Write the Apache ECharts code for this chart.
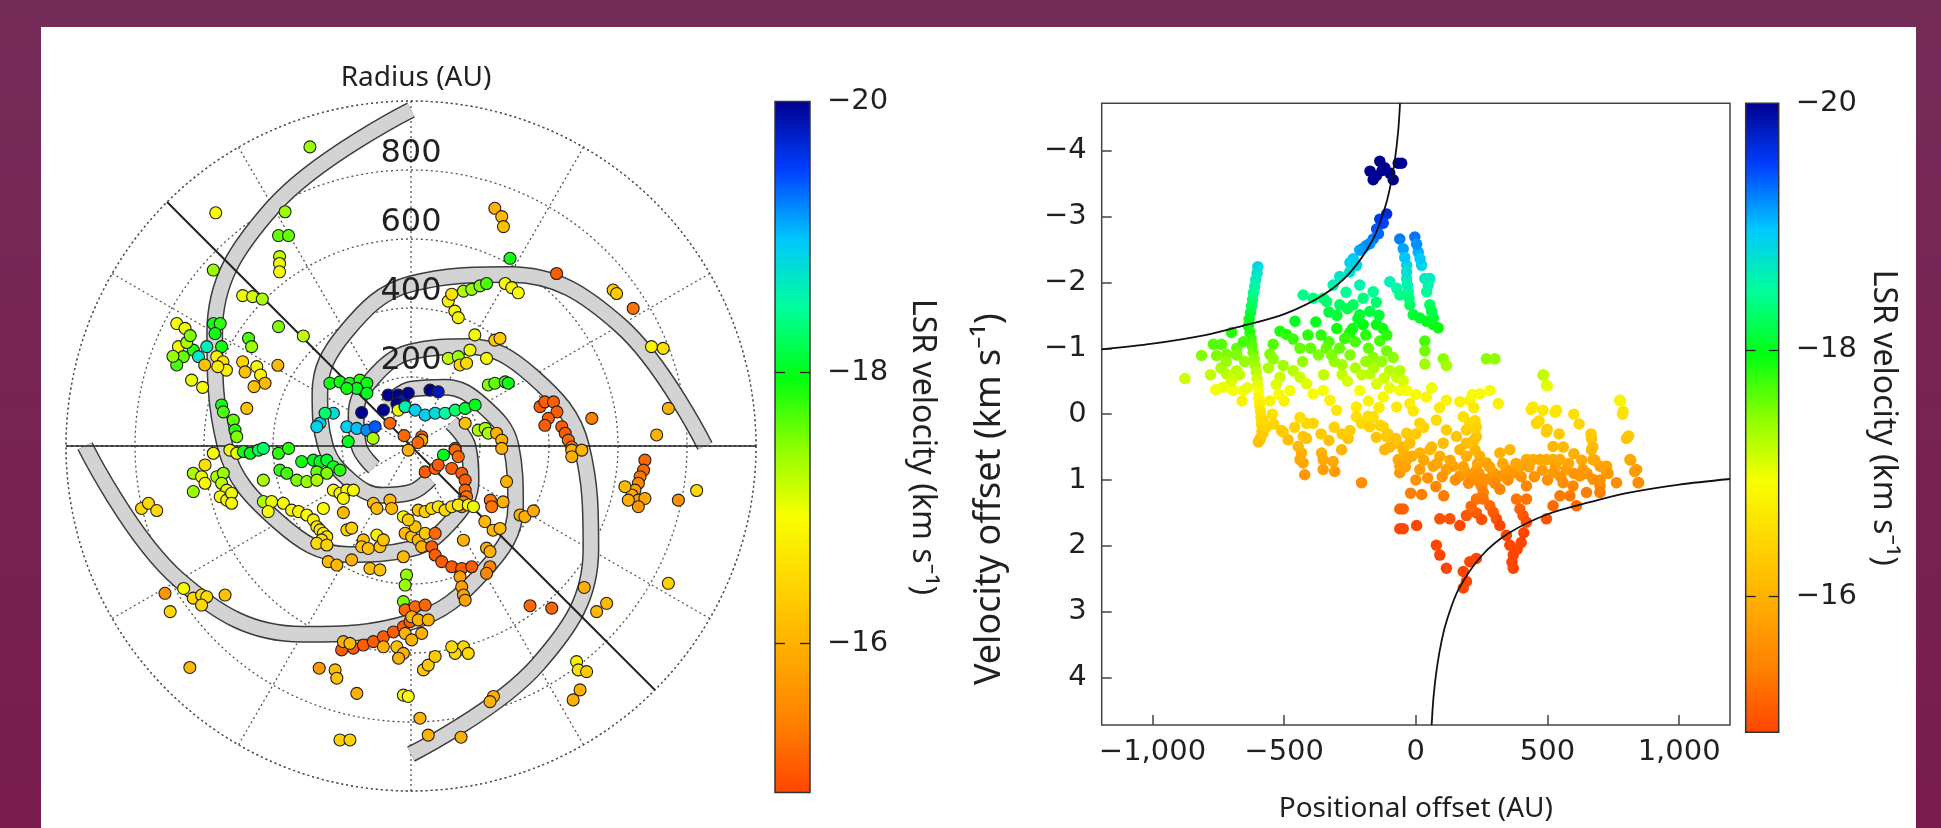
<!DOCTYPE html>
<html>
<head>
<meta charset="utf-8">
<script src="https://cdn.jsdelivr.net/npm/echarts@6/dist/echarts.min.js"></script>
<style>
html, body { margin:0; padding:0; width:1941px; height:828px; overflow:hidden;
  background: linear-gradient(#742c59, #7a1b4f); }
#panel { position:absolute; left:41px; top:27px; width:1875px; height:801px; background:#fff; }
#chart { position:absolute; left:0; top:0; width:1941px; height:828px; }
</style>
</head>
<body>
<div id="panel"></div>
<div id="chart"></div>
<script>
// ---------- data ----------
var lsrMin = -20, lsrMax = -14.9, vSys = -16.6;
var lsrTicks = [-20, -18, -16];
var radiusMax = 1000;
var radiusTicks = [200, 400, 600, 800];
var posTicks = [-1000, -500, 0, 500, 1000];
var velTicks = [-4, -3, -2, -1, 0, 1, 2, 3, 4];
var posRange = 1193, velRange = 4.72;

// spiral arms [radius AU, angle deg], angle counter-clockwise from east
var armNorth = [[974,90],[800,120],[657,150],[539,180],[442,210],[363,240],[298,270],[245,300],[201,330],[165,0],[135,30]];
var armSouth = [[893,270],[733,300],[602,330],[494,0],[406,30],[333,60],[273,90],[225,120],[184,150],[151,180],[124,210]];
var armEast  = [[852,0],[700,30],[574,60],[470,90],[380,120],[305,150],[248,180],[202,210],[165,240],[134,270],[110,300]];
var armWest  = [[945,180],[776,210],[630,240],[510,270],[420,300],[350,330],[290,0],[238,30],[197,60],[165,90],[136,120]];

var eastWestLine = [[1000,0],[1000,180]];
var majorAxisLine = [[1210,135],[1210,315]];

// maser spots on the sky: [east AU, north AU, LSR velocity]
var discSpots = [
 [-293,867,-17.4],[-566,676,-16.9],[-365,679,-17.4],[-384,610,-17.6],[-355,610,-17.6],
 [-381,549,-17.2],[-381,529,-17.0],[-381,505,-16.9],[-573,510,-17.4],
 [-488,436,-17.0],[-459,433,-17.1],[-431,426,-17.3],[-384,346,-17.5],[-312,319,-17.2],
 [-679,355,-16.9],[-655,341,-17.0],[-674,288,-16.9],[-660,259,-17.6],[-679,235,-17.7],[-631,278,-17.8],
 [-616,259,-18.7],[-592,288,-18.6],[-573,355,-17.9],[-553,355,-17.8],[-568,326,-17.9],[-549,288,-17.9],
 [-563,259,-16.8],[-545,244,-16.6],[-535,220,-16.8],[-598,235,-16.2],[-636,191,-17.0],[-604,170,-16.9],
 [-650,300,-17.3],[-640,320,-17.5],[-560,230,-16.7],[-690,260,-17.4],
 [-471,312,-17.7],[-462,288,-17.4],[-488,244,-16.4],[-481,215,-16.2],[-447,230,-16.9],[-436,206,-16.8],
 [-423,182,-16.1],[-455,172,-16.2],[-386,234,-16.1],
 [-549,119,-17.9],[-544,99,-17.7],[-515,75,-17.6],[-510,46,-17.8],[-505,27,-17.5],[-476,109,-16.2],
 [-235,182,-17.9],[-206,186,-17.9],[-177,182,-17.9],[-148,191,-17.8],[-128,182,-17.9],[-157,167,-18.0],[-186,167,-17.9],
 [-128,153,-18.0],[-264,66,-18.9],[-225,95,-18.8],[-249,95,-18.3],[-273,56,-18.9],
 [-186,56,-18.9],[-157,51,-19.0],[-128,46,-19.2],[-104,56,-19.4],[-143,97,-20],
 [-66,148,-20],[-37,148,-20],[-22,133,-19.8],[-41,123,-20],[-80,104,-20.2],
 [-37,104,-17.0],[-17,114,-17.5],[-61,66,-15.2],[-182,13,-18.0],[-110,22,-17.3],
 [243,689,-16.0],[263,665,-16.1],[268,636,-16.2],[287,544,-17.9],[422,500,-15.1],
 [586,452,-16.3],[596,442,-16.3],[644,399,-15.3],[697,288,-16.8],[731,283,-16.6],
 [746,109,-16.0],[712,32,-16.0],[524,80,-15.4],
 [108,420,-16.8],[127,391,-16.9],[137,372,-16.8],[118,440,-16.6],[152,449,-17.3],[176,454,-17.4],
 [200,464,-17.5],[219,471,-17.7],[273,471,-16.9],[292,459,-16.8],[311,444,-16.9],
 [185,322,-16.9],[243,307,-16.3],[258,312,-16.3],
 [108,254,-17.2],[137,259,-17.4],[171,278,-17.0],[142,235,-16.4],[161,240,-16.5],[219,254,-16.9],
 [224,177,-17.5],[243,182,-17.6],[273,186,-17.8],[282,182,-17.9],
 [-8,153,-20],[55,162,-20],[79,157,-19.8],
 [-17,114,-18.6],[12,104,-18.9],[41,90,-18.9],[70,95,-18.8],[99,95,-18.5],[128,104,-18.3],[157,109,-18.1],[186,119,-18.0],
 [157,66,-16.2],[195,46,-17.3],[215,51,-17.3],[224,37,-17.3],
 [248,37,-16.0],[263,17,-16.0],[263,-7,-16.0],[31,27,-15.1],[128,-7,-15.2],
 [374,114,-15.1],[388,128,-15.1],[413,128,-15.1],[423,99,-15.1],[398,80,-15.1],[388,60,-15.1],
 [437,56,-15.1],[447,37,-15.1],[456,17,-15.2],[466,-3,-15.3],
 [-573,-21,-16.9],[-525,-12,-17.0],[-505,-21,-17.0],
 [-486,-16,-17.9],[-466,-21,-18.0],[-442,-12,-18.2],[-428,-7,-18.3],[-384,-21,-17.8],[-355,-7,-17.8],
 [-597,-55,-16.6],[-631,-79,-17.3],[-607,-89,-17.0],[-597,-108,-16.9],[-631,-132,-17.4],
 [-563,-89,-17.3],[-544,-79,-17.4],[-549,-108,-17.2],[-534,-128,-17.0],[-553,-147,-16.9],[-534,-157,-16.8],
 [-520,-137,-17.0],[-520,-166,-16.9],
 [-781,-181,-16.5],[-761,-166,-16.5],[-737,-187,-16.5],
 [-428,-99,-17.3],[-380,-70,-17.8],[-360,-79,-17.7],[-317,-45,-17.9],
 [-283,-41,-18.0],[-264,-45,-18.0],[-244,-41,-18.1],[-225,-60,-17.9],[-206,-70,-17.8],[-273,-75,-17.6],
 [-244,-79,-17.5],[-331,-99,-17.5],[-302,-103,-17.4],[-273,-99,-17.3],
 [-225,-128,-16.9],[-206,-137,-16.8],[-186,-128,-16.9],[-167,-128,-16.9],[-196,-152,-16.8],
 [-428,-161,-17.3],[-404,-161,-17.0],[-370,-166,-16.9],[-346,-186,-16.9],[-326,-190,-16.8],[-302,-200,-16.9],
 [-283,-214,-16.8],[-273,-234,-16.7],[-264,-243,-16.6],[-254,-253,-16.7],[-244,-263,-16.6],[-259,-272,-16.5],
 [-273,-282,-16.5],[-244,-287,-16.4],
 [-414,-190,-16.9],[-254,-181,-16.9],[-196,-193,-16.1],[-186,-243,-16.4],[-172,-238,-16.4],
 [-109,-166,-16.1],[-99,-181,-16.1],[-61,-157,-16.1],[-56,-181,-16.1],[-22,-205,-16.8],[-99,-258,-16.8],
 [-138,-272,-16.2],[-143,-292,-16.2],[-124,-297,-16.2],[-90,-292,-16.2],[-80,-272,-16.2],[-22,-321,-16.1],
 [-240,-335,-16.1],[-215,-345,-16.1],[-172,-330,-16.0],[-119,-355,-16.2],[-90,-359,-16.2],
 [-13,-374,-17.4],[-17,-403,-17.4],[-22,-451,-17.5],
 [-713,-427,-15.7],[-659,-413,-16.9],[-631,-441,-16.5],[-607,-432,-16.5],[-592,-437,-16.5],[-607,-461,-16.5],
 [-539,-432,-16.2],[-698,-480,-16.5],
 [-201,-591,-15.1],[-167,-586,-15.1],[-138,-577,-15.1],[-109,-567,-15.1],[-80,-553,-15.1],[-51,-539,-15.1],
 [-22,-524,-15.1],[-3,-509,-15.1],
 [-196,-567,-16.0],[-177,-572,-16.1],[-80,-582,-16.0],[-41,-582,-16.2],[-22,-601,-16.0],[-36,-615,-16.0],
 [-641,-642,-16.1],[-266,-644,-15.7],[-220,-649,-16.2],[-215,-673,-16.2],[-157,-717,-16.0],
 [-206,-852,-16.4],[-177,-852,-16.4],[-22,-722,-16.9],[-8,-726,-16.9],
 [-8,-12,-16.0],[31,17,-16.0],[94,-26,-18.0],[128,-12,-15.2],[137,-31,-15.2],
 [41,-75,-15.1],[70,-65,-15.1],[79,-55,-15.1],[118,-65,-15.1],
 [147,-79,-15.1],[157,-99,-15.1],[157,-128,-15.2],[161,-147,-15.3],[152,-162,-15.4],[147,-176,-15.5],
 [21,-186,-16.2],[41,-190,-16.4],[60,-181,-16.5],[79,-176,-16.6],[99,-186,-16.5],[118,-176,-16.6],
 [137,-171,-16.7],[166,-171,-16.9],[181,-176,-17.0],
 [-17,-253,-16.1],[2,-263,-16.2],[21,-273,-16.1],[41,-253,-16.3],[31,-292,-16.0],[12,-234,-16.2],[-8,-214,-16.3],
 [70,-253,-15.2],[60,-292,-15.1],[70,-316,-15.1],[89,-335,-15.1],[118,-350,-15.1],[147,-355,-15.1],[176,-350,-15.1],
 [152,-273,-16.0],[230,-157,-15.3],[234,-176,-15.3],[267,-162,-16.0],[277,-103,-16.0],
 [214,-219,-16.1],[238,-244,-16.1],[258,-239,-16.1],[219,-296,-16.0],[229,-306,-16.0],
 [316,-200,-16.0],[330,-205,-16.0],[355,-188,-15.9],[229,-350,-15.5],[219,-369,-15.5],
 [142,-379,-15.8],[147,-408,-15.8],[152,-432,-15.8],[157,-447,-15.8],
 [345,-463,-15.2],[408,-470,-15.2],[502,-410,-16.0],[538,-480,-16.1],[567,-456,-16.1],[746,-398,-16.4],
 [-17,-475,-15.2],[12,-466,-15.2],[41,-461,-15.2],[2,-495,-16.0],[21,-504,-16.0],[50,-504,-16.0],
 [-17,-543,-16.0],[2,-562,-16.0],[31,-543,-16.0],
 [137,-591,-16.5],[152,-582,-16.5],[166,-601,-16.5],[128,-601,-16.5],[118,-582,-16.5],
 [36,-649,-16.3],[50,-635,-16.3],[70,-610,-16.3],
 [480,-625,-16.8],[485,-649,-16.6],[509,-654,-16.3],[490,-707,-16.0],[470,-736,-16.0],
 [239,-726,-16.0],[229,-741,-16.0],[26,-789,-16.0],[50,-838,-16.0],[145,-844,-16.0],
 [678,-41,-15.2],[674,-70,-15.2],[664,-89,-15.3],[659,-108,-15.5],[649,-128,-15.8],[640,-142,-15.9],
 [659,-157,-15.8],[678,-152,-15.9],[659,-176,-15.7],[630,-157,-16.0],[620,-118,-16.1],
 [775,-157,-15.6],[828,-129,-16.5],[466,-12,-16.0],[466,-31,-16.0],[495,-12,-16.0],
 [-20,30,-15.2],[20,10,-15.2]
];

// position-velocity diagram: [positional offset AU, velocity offset km/s]
var pvSpots = [
 [-174,-3.69],[-162,-3.56],[-137,-3.84],[-118,-3.74],[-99,-3.66],[-86,-3.56],[-67,-3.81],[-54,-3.81],[-150,-3.62],[-128,-3.70],
 [-137,-2.96],[-111,-3.04],[-149,-2.81],[-162,-2.66],[-124,-2.90],[-142,-2.74],
 [-238,-2.36],[-225,-2.26],[-213,-2.49],[-200,-2.52],[-188,-2.56],[-175,-2.59],[-250,-2.30],
 [-600,-2.24],[-603,-2.14],[-608,-2.04],[-612,-1.94],[-617,-1.84],[-620,-1.74],[-624,-1.64],[-628,-1.54],
 [-633,-1.44],[-636,-1.34],[-630,-1.24],[-626,-1.14],[-622,-1.04],[-618,-0.94],[-614,-0.84],[-610,-0.74],
 [-606,-0.64],[-603,-0.54],[-600,-0.44],[-598,-0.34],[-596,-0.24],[-594,-0.14],[-590,-0.04],[-588,0.06],
 [-586,0.16],[-584,0.26],[-590,0.36],[-598,0.42],
 [-352,-1.76],[-314,-1.96],[-289,-2.09],[-251,-2.16],[-428,-1.81],[-390,-1.76],[-339,-1.71],[-289,-1.66],
 [-238,-1.66],[-200,-1.76],[-213,-1.96],[-265,-1.85],
 [-459,-1.41],[-516,-1.26],[-491,-1.21],[-466,-1.14],[-542,-1.06],[-554,-0.91],[-700,-1.24],[-738,-1.06],
 [-769,-1.06],[-814,-0.89],[-757,-0.89],[-719,-0.91],[-680,-1.0],[-655,-1.1],
 [-877,-0.54],[-731,-0.41],[-693,-0.36],[-655,-0.36],[-719,-0.61],[-681,-0.66],[-760,-0.37],[-700,-0.5],[-740,-0.7],[-780,-0.6],
 [-650,-0.8],[-670,-0.6],[-640,-0.4],[-660,-0.2],[-680,-0.9],[-720,-0.8],
 [-542,-0.84],[-504,-0.74],[-466,-0.66],[-440,-0.56],[-516,-0.56],[-478,-0.36],[-415,-0.46],[-390,-0.31],
 [-352,-0.36],[-326,-0.21],[-301,-0.06],[-560,-0.7],[-530,-0.45],[-500,-0.2],[-520,-0.3],[-555,-0.2],
 [-545,0.0],[-540,0.15],[-510,0.25],
 [-251,-1.24],[-213,-1.51],[-200,-1.36],[-300,-1.3],[-330,-1.1],[-370,-0.9],[-400,-1.0],[-430,-0.8],
 [-310,-0.8],[-280,-0.6],[-250,-0.9],[-230,-1.1],[-350,-0.6],[-410,-1.2],[-440,-1.0],
 [-380,-1.4],[-360,-1.2],[-340,-1.0],[-320,-0.9],[-290,-1.0],[-270,-1.15],[-240,-1.3],[-220,-1.45],
 [-260,-1.6],[-300,-1.5],[-330,-1.55],[-280,-0.75],[-260,-0.5],[-230,-0.7],
 [-162,-1.86],[-175,-1.56],[-149,-1.36],[-137,-1.11],[-111,-0.96],[-86,-0.86],[-162,-0.86],[-175,-0.61],
 [-149,-0.46],[-99,-0.66],[-73,-0.56],[-61,-0.36],[-213,-0.36],[-124,-0.26],[-73,-0.11],[-226,-0.11],
 [-99,-2.01],[-73,-1.91],[-61,-1.81],[-150,-1.7],[-140,-1.5],[-125,-1.3],[-110,-1.2],[-190,-1.2],
 [-180,-1.0],[-160,-0.7],[-130,-0.8],[-120,-0.55],[-190,-0.8],[-205,-0.6],[-100,-0.4],[-140,-0.1],[-180,-0.2],
 [-61,-2.66],[-48,-2.51],[-35,-2.26],[-35,-2.06],[-29,-1.86],[-23,-1.66],[-10,-1.51],[15,-1.46],[40,-1.41],
 [66,-1.36],[85,-1.31],[-42,-2.38],[-35,-2.16],[-32,-1.96],[-26,-1.76],
 [-4,-2.69],[9,-2.46],[22,-2.26],[34,-2.06],[53,-2.06],[41,-1.86],[53,-1.66],[66,-1.46],[3,-2.58],[16,-2.36],
 [47,-1.96],[60,-1.56],
 [34,-1.11],[34,-0.96],[34,-0.76],[104,-0.84],[116,-0.74],[268,-0.84],[300,-0.84],[483,-0.59],[496,-0.44],
 [-61,-0.66],[-48,-0.51],[-35,-0.36],[-23,-0.16],[40,-0.26],[116,-0.21],[167,-0.19],[205,-0.21],[243,-0.31],
 [281,-0.36],[313,-0.16],[445,-0.11],[483,-0.06],[534,-0.06],[774,-0.21],[787,-0.04],[60,-0.4],[0,-0.3],[-10,-0.05],[90,-0.1],
 [-592,0.39],[-580,0.29],[-567,0.19],[-580,0.09],[-504,0.27],[-485,0.39],[-447,0.49],[-434,0.59],[-428,0.74],
 [-422,0.92],[-440,0.69],[-415,0.14],[-390,0.14],[-428,0.34],[-415,0.37],[-358,0.59],[-352,0.69],[-352,0.84],
 [-314,0.72],[-308,0.87],[-282,0.54],[-257,0.37],[-206,1.04],[-226,0.04],[-206,0.14],[-175,0.19],[-162,0.04],
 [-124,0.19],[-111,0.34],[-118,0.54],[-67,0.69],[-61,0.89],[-73,0.44],[-61,1.44],[-61,1.74],[-310,0.2],
 [-330,0.4],[-280,0.3],[-250,0.25],[-360,0.3],[-460,0.2],[-440,0.05],
 [-181,0.03],[-136,0.17],[-106,0.3],[-76,0.37],[-45,0.5],[-15,0.64],[15,0.84],[45,0.97],[76,1.10],[106,1.24],
 [-150,0.35],[-100,0.5],[-40,0.8],[0,1.0],[-20,1.2],[0,0.3],[30,0.2],[60,0.5],
 [-48,0.54],[-35,0.69],[-61,0.79],[-23,0.44],[15,0.59],[53,0.54],[91,0.64],[66,0.79],[116,0.84],[142,0.79],
 [167,0.94],[192,0.89],[218,0.99],[243,1.04],[268,0.99],[294,0.89],[319,0.94],[344,0.84],[370,0.89],[395,0.79],
 [420,0.69],[445,0.69],[471,0.69],[496,0.69],[521,0.69],[547,0.69],[572,0.84],[192,0.24],[192,0.44],[192,0.64],
 [205,0.14],[154,0.34],[167,0.54],[104,0.44],[243,0.64],[268,0.74],[319,0.59],[357,0.54],[116,0.24],[15,0.14],
 [-35,0.29],[78,0.09],[180,0.04],[230,0.34],
 [30,0.7],[80,0.75],[130,0.7],[180,0.8],[230,0.85],[280,0.8],[330,0.75],[380,0.75],[430,0.8],[480,0.85],
 [530,0.8],[580,0.75],[630,0.7],[100,0.95],[150,1.0],[200,1.05],[250,1.1],[300,1.05],[350,1.0],[400,0.95],
 [450,0.95],[500,1.0],[550,0.95],[600,0.9],[650,0.9],
 [215,-0.3],[220,-0.1],[225,0.1],[230,0.2],[220,0.4],[225,0.55],[235,0.75],[240,0.9],[250,1.0],
 [667,0.37],[667,0.54],[673,0.69],[699,0.79],[724,0.87],[635,0.84],[800,0.37],[813,0.69],[838,0.84],[844,1.04],
 [458,0.14],[496,0.27],[521,0.49],[623,0.94],[673,0.99],[699,1.09],[724,0.79],[762,1.04],[521,0.89],[559,1.04],
 [597,1.09],[256,1.19],[230,1.29],[319,1.14],[420,1.09],[420,1.29],
 [256,1.29],[281,1.39],[294,1.49],[306,1.59],[319,1.69],[344,1.84],[357,1.99],[370,2.14],[370,2.34],[382,1.29],
 [395,1.44],[407,1.54],[420,1.64],[410,1.8],[400,1.95],[385,2.05],[365,2.25],
 [192,1.54],[167,1.69],[129,1.59],[91,1.59],[78,1.99],[91,2.14],[116,2.34],[180,2.39],[192,2.54],[180,2.64],
 [205,2.24],[230,2.19],[-48,1.44],[-48,1.74],[3,1.69],[22,1.22],[496,1.59],[521,1.39],[547,1.24],[585,1.24],
 [610,1.39],[648,1.19],[699,1.19],[230,1.5],[250,1.6],[210,1.4],
 [778,-0.2],[785,0],[808,0.33],[816,0.70],[831,0.87],[846,1.04],[438,-0.07],[468,0.1],[499,0.23],[529,-0.03],
 [544,0.30],[484,-0.6],[499,-0.43],[665,0.3],[672,0.5],[680,0.7],[600,0.0],[620,0.15],[560,0.5],[600,0.6],[730,0.9],[700,1.0]
];

// Keplerian rotation curves
var keplerUpper = [[-1193,-0.985],[-1000,-1.07],[-800,-1.2],[-668,-1.33],[-500,-1.52],[-352,-1.81],[-250,-2.15],
 [-162,-2.66],[-120,-3.1],[-99,-3.42],[-80,-3.85],[-67,-4.3],[-60,-4.72]];
var keplerLower = [[1193,0.985],[1000,1.07],[800,1.2],[668,1.33],[500,1.52],[352,1.81],[250,2.15],
 [162,2.66],[120,3.1],[99,3.42],[80,3.85],[67,4.3],[60,4.72]];

// ---------- styles ----------
var jet = ['#000090','#0040ff','#00c8ff','#00ff9a','#00ff10','#8cff00','#f8ff00','#ffd400','#ffab00','#ff8000','#ff4500'];
var textColor = '#231f20';
var numFont = 'DejaVu Sans';
var txtFont = 'Noto Sans';
var dotted = { color:'#555', width:1.3, type:[2,3] };

function fmt(v) {
  return (v < 0 ? '\u2212' : '') + Math.abs(v).toLocaleString('en-US');
}
function colorbarFill() {
  return new echarts.graphic.LinearGradient(0, 0, 0, 1, jet.map(function (c, i) {
    return { offset: i / (jet.length - 1), color: c };
  }));
}
function colorbarAxes(gridIndex, gap) {
  return [{
    gridIndex: gridIndex, type:'value', min:lsrMin, max:lsrMax, inverse:true, position:'right', z:10,
    axisLine:{show:false, onZero:false}, splitLine:{show:false},
    axisTick:{show:true, inside:true, length:10, customValues:lsrTicks.slice(1), lineStyle:{color:'#222', width:1.3}},
    axisLabel:{margin:17, customValues:lsrTicks, formatter:fmt, fontSize:29, fontFamily:numFont, color:textColor},
    name:'LSR velocity (km s\u207B\u00B9)', nameLocation:'middle', nameRotate:-90, nameGap:gap,
    nameTextStyle:{fontSize:32, fontFamily:txtFont, color:textColor}
  }, {
    gridIndex: gridIndex, type:'value', min:lsrMin, max:lsrMax, inverse:true, position:'left', z:10,
    axisLine:{show:false, onZero:false}, splitLine:{show:false}, axisLabel:{show:false},
    axisTick:{show:true, inside:true, length:10, customValues:lsrTicks.slice(1), lineStyle:{color:'#222', width:1.3}}
  }];
}
function colorbarSeries(xi, yi) {
  return {
    type:'scatter', xAxisIndex:xi, yAxisIndex:yi, data:[[0.5, -17]], symbolSize:0, silent:true,
    markArea:{ silent:true, itemStyle:{ color:colorbarFill(), borderColor:'#333', borderWidth:1.5, opacity:1 },
      data:[[{xAxis:0, yAxis:lsrMin}, {xAxis:1, yAxis:lsrMax}]] }
  };
}

var arms = [armNorth, armSouth, armEast, armWest];
var series = [];
arms.forEach(function (arm) {
  series.push({ type:'line', coordinateSystem:'polar', data:arm, smooth:0.4, symbol:'none', clip:false, silent:true,
    lineStyle:{ color:'#3c3c3c', width:17 }, z:2 });
});
arms.forEach(function (arm) {
  series.push({ type:'line', coordinateSystem:'polar', data:arm, smooth:0.4, symbol:'none', clip:false, silent:true,
    lineStyle:{ color:'#d3d3d3', width:14 }, z:3 });
});
series.push({ type:'line', coordinateSystem:'polar', data:eastWestLine, symbol:'none', clip:false, silent:true,
  lineStyle:{ color:'#222', width:1.6 }, z:4 });
series.push({ type:'line', coordinateSystem:'polar', data:majorAxisLine, symbol:'none', clip:false, silent:true,
  lineStyle:{ color:'#222', width:2 }, z:4 });

var discIndex = series.length;
series.push({
  type:'scatter', coordinateSystem:'polar', symbolSize:12, z:5,
  itemStyle:{ borderColor:'#222', borderWidth:1.1, opacity:1 },
  data: discSpots.map(function (p) {
    var ang = Math.atan2(p[1], p[0]) * 180 / Math.PI;
    return [Math.sqrt(p[0] * p[0] + p[1] * p[1]), (ang + 360) % 360, p[2]];
  })
});
series.push({
  type:'scatter', coordinateSystem:'polar', symbolSize:0, z:6, silent:true,
  itemStyle:{ opacity:1 },
  data: radiusTicks.map(function (r) { return [r, 90]; }),
  label:{ show:true, position:'inside', offset:[0,-16], formatter:function (p) { return p.value[0]; },
    fontSize:32, fontFamily:numFont, color:textColor, opacity:1 }
});

series.push(colorbarSeries(0, 0));
var pvIndex = series.length;
series.push({ type:'scatter', xAxisIndex:1, yAxisIndex:2, data:pvSpots, symbolSize:11.5, z:3,
  itemStyle:{ opacity:1 } });
series.push({ type:'line', xAxisIndex:1, yAxisIndex:2, data:keplerUpper, smooth:0.3, symbol:'none', silent:true,
  lineStyle:{ color:'#111', width:1.8 }, z:4 });
series.push({ type:'line', xAxisIndex:1, yAxisIndex:2, data:keplerLower, smooth:0.3, symbol:'none', silent:true,
  lineStyle:{ color:'#111', width:1.8 }, z:4 });
series.push(colorbarSeries(2, 3));

var option = {
  animation:false,
  backgroundColor:'transparent',
  title:{ text:'Radius (AU)', left:411, top:59, textAlign:'center',
    textStyle:{ fontSize:28, fontWeight:'normal', fontFamily:txtFont, color:textColor } },
  polar:{ center:[411, 446], radius:345 },
  angleAxis:{ type:'value', min:0, max:360, interval:30, startAngle:0, clockwise:false,
    axisLine:{ show:true, lineStyle:dotted }, axisTick:{show:false}, axisLabel:{show:false},
    splitLine:{ show:true, lineStyle:dotted } },
  radiusAxis:{ type:'value', min:0, max:radiusMax, interval:200,
    axisLine:{show:false}, axisTick:{show:false}, axisLabel:{show:false},
    splitLine:{ show:true, lineStyle:dotted } },
  grid:[
    { left:775, top:101.5, width:35, height:691 },
    { left:1101.7, top:103.3, width:628.3, height:629, show:true, borderColor:'#444', borderWidth:1.5 },
    { left:1745.7, top:103.3, width:33, height:629 }
  ],
  xAxis:[
    { gridIndex:0, type:'value', min:0, max:1, show:false },
    { gridIndex:1, type:'value', min:-posRange, max:posRange,
      axisLine:{show:false, onZero:false}, splitLine:{show:false},
      axisTick:{ show:true, inside:true, length:10, customValues:posTicks, lineStyle:{color:'#444', width:1.5} },
      axisLabel:{ margin:13, customValues:posTicks, formatter:fmt, fontSize:29, fontFamily:numFont, color:textColor },
      name:'Positional offset (AU)', nameLocation:'middle', nameGap:70,
      nameTextStyle:{ fontSize:28, fontFamily:txtFont, color:textColor } },
    { gridIndex:2, type:'value', min:0, max:1, show:false }
  ],
  yAxis: colorbarAxes(0, 96).concat([{
      gridIndex:1, type:'value', min:-velRange, max:velRange, inverse:true,
      axisLine:{show:false, onZero:false}, splitLine:{show:false},
      axisTick:{ show:true, inside:true, length:10, customValues:velTicks, lineStyle:{color:'#444', width:1.5} },
      axisLabel:{ margin:15, customValues:velTicks, formatter:fmt, fontSize:29, fontFamily:numFont, color:textColor },
      name:'Velocity offset (km s\u207B\u00B9)', nameLocation:'middle', nameRotate:90, nameGap:94,
      nameTextStyle:{ fontSize:36, fontFamily:txtFont, color:textColor, padding:[0, 170, 0, 0] }
    }]).concat(colorbarAxes(2, 88)),
  visualMap:[
    { type:'continuous', show:false, seriesIndex:discIndex, dimension:2, min:lsrMin, max:lsrMax, inRange:{ color:jet } },
    { type:'continuous', show:false, seriesIndex:pvIndex, dimension:1, min:lsrMin - vSys, max:lsrMax - vSys, inRange:{ color:jet } }
  ],
  series: series
};

var chart = echarts.init(document.getElementById('chart'));
chart.setOption(option);
</script>
</body>
</html>
